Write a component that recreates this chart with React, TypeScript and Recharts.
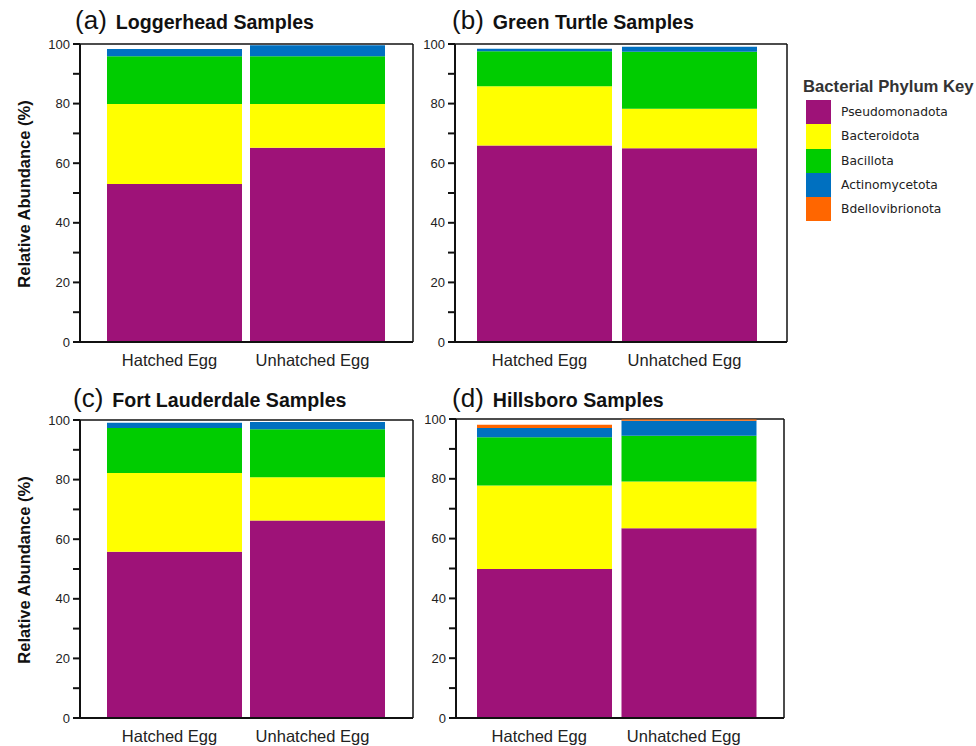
import React from 'react';
import { BarChart, Bar, XAxis, YAxis, CartesianGrid } from 'recharts';

const categories = ['Hatched Egg', 'Unhatched Egg'];
const phyla = ['Pseudomonadota', 'Bacteroidota', 'Bacillota', 'Actinomycetota', 'Bdellovibrionota'];
const phylumColors = ['#9e1278', '#ffff00', '#00cc00', '#0070c0', '#ff6600'];
const yTicks = [0, 10, 20, 30, 40, 50, 60, 70, 80, 90, 100];

// relative abundance (%) per phylum, same order as `phyla`
const loggerheadHatched = [53.0, 26.9, 16.0, 2.4, 0];
const loggerheadUnhatched = [65.2, 14.7, 16.0, 3.7, 0];
const greenHatched = [65.9, 19.9, 11.8, 0.8, 0];
const greenUnhatched = [65.0, 13.3, 19.1, 1.7, 0];
const fortHatched = [55.8, 26.4, 15.1, 1.8, 0];
const fortUnhatched = [66.3, 14.5, 16.1, 2.4, 0];
const hillsboroHatched = [49.8, 28.0, 16.1, 3.1, 1.1];
const hillsboroUnhatched = [63.5, 15.6, 15.3, 5.0, 0.4];

const FONT = '"Liberation Sans", Arial, sans-serif';

function buildRows(hatched: number[], unhatched: number[]) {
  return categories.map((name, i) => {
    const vals = i === 0 ? hatched : unhatched;
    const row: Record<string, string | number> = { name };
    phyla.forEach((p, j) => (row[p] = vals[j]));
    return row;
  });
}

const YTick = ({ x, y, payload }: any) =>
  payload.value % 20 === 0 ? (
    <text x={x} y={y} dy={4.5} textAnchor="end" fontSize={13} fill="#222" fontFamily={FONT}>
      {payload.value}
    </text>
  ) : (
    <g />
  );

const XTick = ({ x, y, payload }: any) => (
  <text x={x - 5} y={y} dy="0.71em" textAnchor="middle" fontSize={16.5} fill="#222" fontFamily={FONT}>
    {payload.value}
  </text>
);

interface PanelProps {
  left: number;
  right: number;
  top: number;
  bottom: number;
  padL: number;
  padR: number;
  gap: number;
  data: Record<string, string | number>[];
}

function Panel({ left, right, top, bottom, padL, padR, gap, data }: PanelProps) {
  const yW = 60;
  const mTop = 10;
  const mRight = 4;
  const xH = 40;
  const chartLeft = left - yW;
  const chartTop = top - mTop;
  const width = right - chartLeft + mRight;
  const height = bottom - top + mTop + xH + 2;
  return (
    <div style={{ position: 'absolute', left: chartLeft, top: chartTop }}>
      <BarChart
        width={width}
        height={height}
        data={data}
        margin={{ top: mTop, right: mRight, bottom: 2, left: 0 }}
        barCategoryGap={gap}
      >
        <CartesianGrid
          horizontalPoints={[mTop]}
          verticalPoints={[width - mRight]}
          stroke="#111"
          strokeWidth={1.5}
        />
        <XAxis
          dataKey="name"
          height={xH}
          padding={{ left: padL, right: padR }}
          tickLine={false}
          axisLine={{ stroke: '#111', strokeWidth: 2 }}
          tickMargin={6}
          tick={<XTick />}
          interval={0}
        />
        <YAxis
          width={yW}
          domain={[0, 100]}
          ticks={yTicks}
          interval={0}
          allowDataOverflow
          tickSize={7}
          tickMargin={3}
          tickLine={{ stroke: '#111', strokeWidth: 2 }}
          axisLine={{ stroke: '#111', strokeWidth: 2 }}
          tick={<YTick />}
        />
        {phyla.map((p, i) => (
          <Bar key={p} dataKey={p} stackId="a" fill={phylumColors[i]} isAnimationActive={false} />
        ))}
      </BarChart>
    </div>
  );
}

function Title({ x, y, letter, text }: { x: number; y: number; letter: string; text: string }) {
  return (
    <div
      style={{
        position: 'absolute',
        left: x,
        top: y,
        fontFamily: FONT,
        color: '#111',
        whiteSpace: 'nowrap',
        lineHeight: 1,
      }}
    >
      <span style={{ fontSize: 26 }}>({letter})</span>
      <span style={{ fontSize: 19.6, fontWeight: 'bold', marginLeft: 9 }}>{text}</span>
    </div>
  );
}

function YLabel({ cx, cy }: { cx: number; cy: number }) {
  return (
    <div
      style={{
        position: 'absolute',
        left: cx - 150,
        top: cy - 10,
        width: 300,
        height: 20,
        lineHeight: '20px',
        textAlign: 'center',
        transform: 'rotate(-90deg)',
        fontFamily: FONT,
        fontWeight: 'bold',
        fontSize: 16.5,
        color: '#111',
      }}
    >
      Relative Abundance (%)
    </div>
  );
}

export default function App() {
  return (
    <div
      style={{
        position: 'absolute',
        left: 0,
        top: 0,
        width: 976,
        height: 746,
        background: '#fff',
        overflow: 'hidden',
      }}
    >
      <Title x={75} y={7} letter="a" text="Loggerhead Samples" />
      <Title x={452} y={7} letter="b" text="Green Turtle Samples" />
      <Title x={73} y={385} letter="c" text="Fort Lauderdale Samples" />
      <Title x={452} y={385} letter="d" text="Hillsboro Samples" />

      <YLabel cx={24} cy={194} />
      <YLabel cx={24} cy={570} />

      <Panel left={80} right={413} top={44} bottom={342} padL={23} padR={24} gap={4}
        data={buildRows(loggerheadHatched, loggerheadUnhatched)} />
      <Panel left={455} right={787} top={44} bottom={342} padL={17} padR={25} gap={5}
        data={buildRows(greenHatched, greenUnhatched)} />
      <Panel left={80} right={413} top={420} bottom={718} padL={23} padR={24} gap={4}
        data={buildRows(fortHatched, fortUnhatched)} />
      <Panel left={456} right={784} top={419} bottom={718} padL={16} padR={23} gap={5}
        data={buildRows(hillsboroHatched, hillsboroUnhatched)} />

      <div style={{ position: 'absolute', left: 803, top: 77, fontFamily: FONT }}>
        <div style={{ fontSize: 16.7, fontWeight: 'bold', color: '#333', lineHeight: '20px' }}>
          Bacterial Phylum Key
        </div>
        <div style={{ marginTop: 3, marginLeft: 3 }}>
          {phyla.map((p, i) => (
            <div key={p} style={{ display: 'flex', alignItems: 'center', height: 24.3 }}>
              <div style={{ width: 25, height: 24.3, background: phylumColors[i] }} />
              <span
                style={{
                  marginLeft: 10,
                  fontSize: 12.3,
                  color: '#222',
                  fontFamily: '"DejaVu Sans", sans-serif',
                }}
              >
                {p}
              </span>
            </div>
          ))}
        </div>
      </div>
    </div>
  );
}
